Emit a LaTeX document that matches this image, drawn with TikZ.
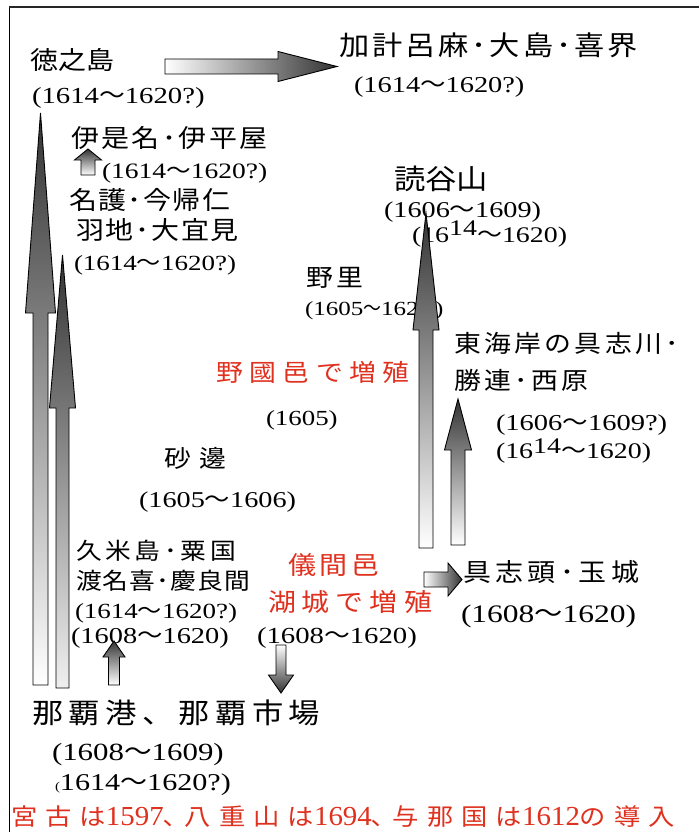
\documentclass[tikz,border=0pt]{standalone}
\usepackage{fontspec}
\usepackage{graphicx}
\setmainfont[FakeStretch=1.25]{Liberation Serif}
\newfontfamily\latn[FakeStretch=1.05]{Liberation Serif}
\newfontfamily\jp[FakeStretch=1.12]{Noto Sans CJK JP}
\definecolor{jred}{HTML}{E0301E}
\newcommand\J[2]{{\jp\addfontfeature{LetterSpace=#1}#2}}
\newcommand\T{{\jp ～}}
\newcommand\Tn{{\jp\scalebox{0.8}[1]{～}}}
\newcommand\N[1]{{\latn\fontsize{27.5}{28}\selectfont #1}}
\newcommand\UpArr[7]{\path[blk, bottom color=#7, top color=black!80] ({#1-#3},#2) -- ({#1-#3},#5) -- ({#1-#4},#5) -- (#1,#6) -- ({#1+#4},#5) -- ({#1+#3},#5) -- ({#1+#3},#2) -- cycle;}
\newcommand\DnArr[6]{\path[blk, top color=white, bottom color=black!80] ({#1-#3},#2) -- ({#1-#3},#5) -- ({#1-#4},#5) -- (#1,#6) -- ({#1+#4},#5) -- ({#1+#3},#5) -- ({#1+#3},#2) -- cycle;}
\newcommand\RtArr[6]{\path[blk, left color=white, right color=black!80] (#2,{#1-#3}) -- (#5,{#1-#3}) -- (#5,{#1-#4}) -- (#6,#1) -- (#5,{#1+#4}) -- (#5,{#1+#3}) -- (#2,{#1+#3}) -- cycle;}
\tikzset{
  txt/.style={anchor=base west, inner sep=0pt, outer sep=0pt},
  sz/.style={font=\fontsize{#1}{#1}\selectfont},
  blk/.style={draw=black, line width=0.9pt, line join=miter},
  rtxt/.style={txt, text=jred},
}
\begin{document}
\begin{tikzpicture}[x=1pt, y=-1pt]
\useasboundingbox[fill=white] (0,0) rectangle (699,832);
% frame
\draw[line width=0.9pt] (9,832) -- (9,7.5);
\draw[line width=2pt, black!85] (8.5,7.5) -- (699,7.5);
% texts
\node[txt, sz=25] (t1) at (30,70) {\J{0}{徳之島}};
\node[txt, sz=23] (t2) at (32,104) {(1614\T 1620?)};
\node[txt, sz=27] (t3) at (339,56) {\J{11}{加計呂麻･大島･喜界}};
\node[txt, sz=22.7] (t4) at (354,93) {(1614\T 1620?)};
\node[txt, sz=25] (t5) at (71,147) {\J{10}{伊是名･伊平屋}};
\node[txt, sz=22] (t6) at (102,178) {(1614\T 1620?)};
\node[txt, sz=25] (t7) at (69,209) {\J{6}{名護･今帰仁}};
\node[txt, sz=25] (t8) at (76,239) {\J{7}{羽地･大宜見}};
\node[txt, sz=21.6] (t9) at (74,270) {(1614\T 1620?)};
\node[txt, sz=28] (t10) at (394,189) {\J{0}{読谷山}};
\node[txt, sz=22.6] (t11) at (384,217) {(1606\T 1609)};
\node[txt, sz=22.3] (t12) at (412,242) {(16\raisebox{7pt}{14}\T 1620)};
\node[txt, sz=24] (t13) at (306,286) {\J{17}{野里}};
\node[txt, sz=20] (t14) at (305,315) {(1605\Tn 1620\kern4pt)};
\node[rtxt, sz=24] (t15) at (216,381) {\J{27}{野國邑で増殖}};
\node[txt, sz=21.5] (t16) at (266,425) {(1605)};
\node[txt, sz=24] (t17) at (164,467) {\J{38}{砂邊}};
\node[txt, sz=22.6] (t18) at (139,507) {(1605\T 1606)};
\node[txt, sz=24] (t19) at (454,352) {\J{14}{東海岸の具志川･}};
\node[txt, sz=24] (t20) at (454,389) {\J{14}{勝連･西原}};
\node[txt, sz=22.8] (t21) at (496,430) {(1606\T 1609?)};
\node[txt, sz=22.3] (t22) at (496,458) {(16\raisebox{5pt}{14}\T 1620)};
\node[txt, sz=23] (t23) at (76,559) {\J{16}{久米島･粟国}};
\node[txt, sz=23] (t24) at (76,589) {\J{5}{渡名喜･慶良間}};
\node[txt, sz=21.6] (t25) at (75,618) {(1614\T 1620?)};
\node[txt, sz=22.7] (t26) at (71,643) {(1608\T 1620)};
\node[rtxt, sz=25] (t27) at (288,574) {\J{16}{儀間邑}};
\node[rtxt, sz=25] (t28) at (268,611) {\J{24}{湖城で増殖}};
\node[txt, sz=23] (t29) at (257,643) {(1608\T 1620)};
\node[txt, sz=25] (t30) at (463,581) {\J{18}{具志頭･玉城}};
\node[txt, sz=25.2] (t31) at (461,622) {(1608\T 1620)};
\node[txt, sz=28] (t32) at (32,723) {\J{19}{那覇港、那覇市場}};
\node[txt, sz=24.7] (t33) at (52,760) {(1608\T 1609)};
\node[txt, sz=24.1] (t34) at (55,790) {{\fontsize{12}{12}\selectfont(}1614\T 1620?)};
\node[rtxt, sz=23.5] (t35) at (11,825) {\J{34}{宮古は}\N{1597}\J{34}{､八重山は}\N{1694}\J{34}{､与那国は}\N{1612}\J{34}{の導入}};
% block arrows
\UpArr{40.5}{685}{7.5}{15}{313}{113}{white}
\UpArr{62.5}{688}{6.5}{13}{408}{255}{black!6}
\UpArr{426}{548}{7}{13}{330}{213}{white}
\UpArr{458}{545}{7}{13.5}{450}{399}{white}
\UpArr{88}{175}{7}{13.5}{160}{149}{white}
\UpArr{114}{685}{5.5}{11}{657}{641}{white}
\DnArr{281}{645}{5}{12.5}{675}{693}
\RtArr{579.5}{424}{7.5}{16.5}{448}{462}
\RtArr{66.5}{165}{7.5}{15}{278}{337}
\end{tikzpicture}
\end{document}
